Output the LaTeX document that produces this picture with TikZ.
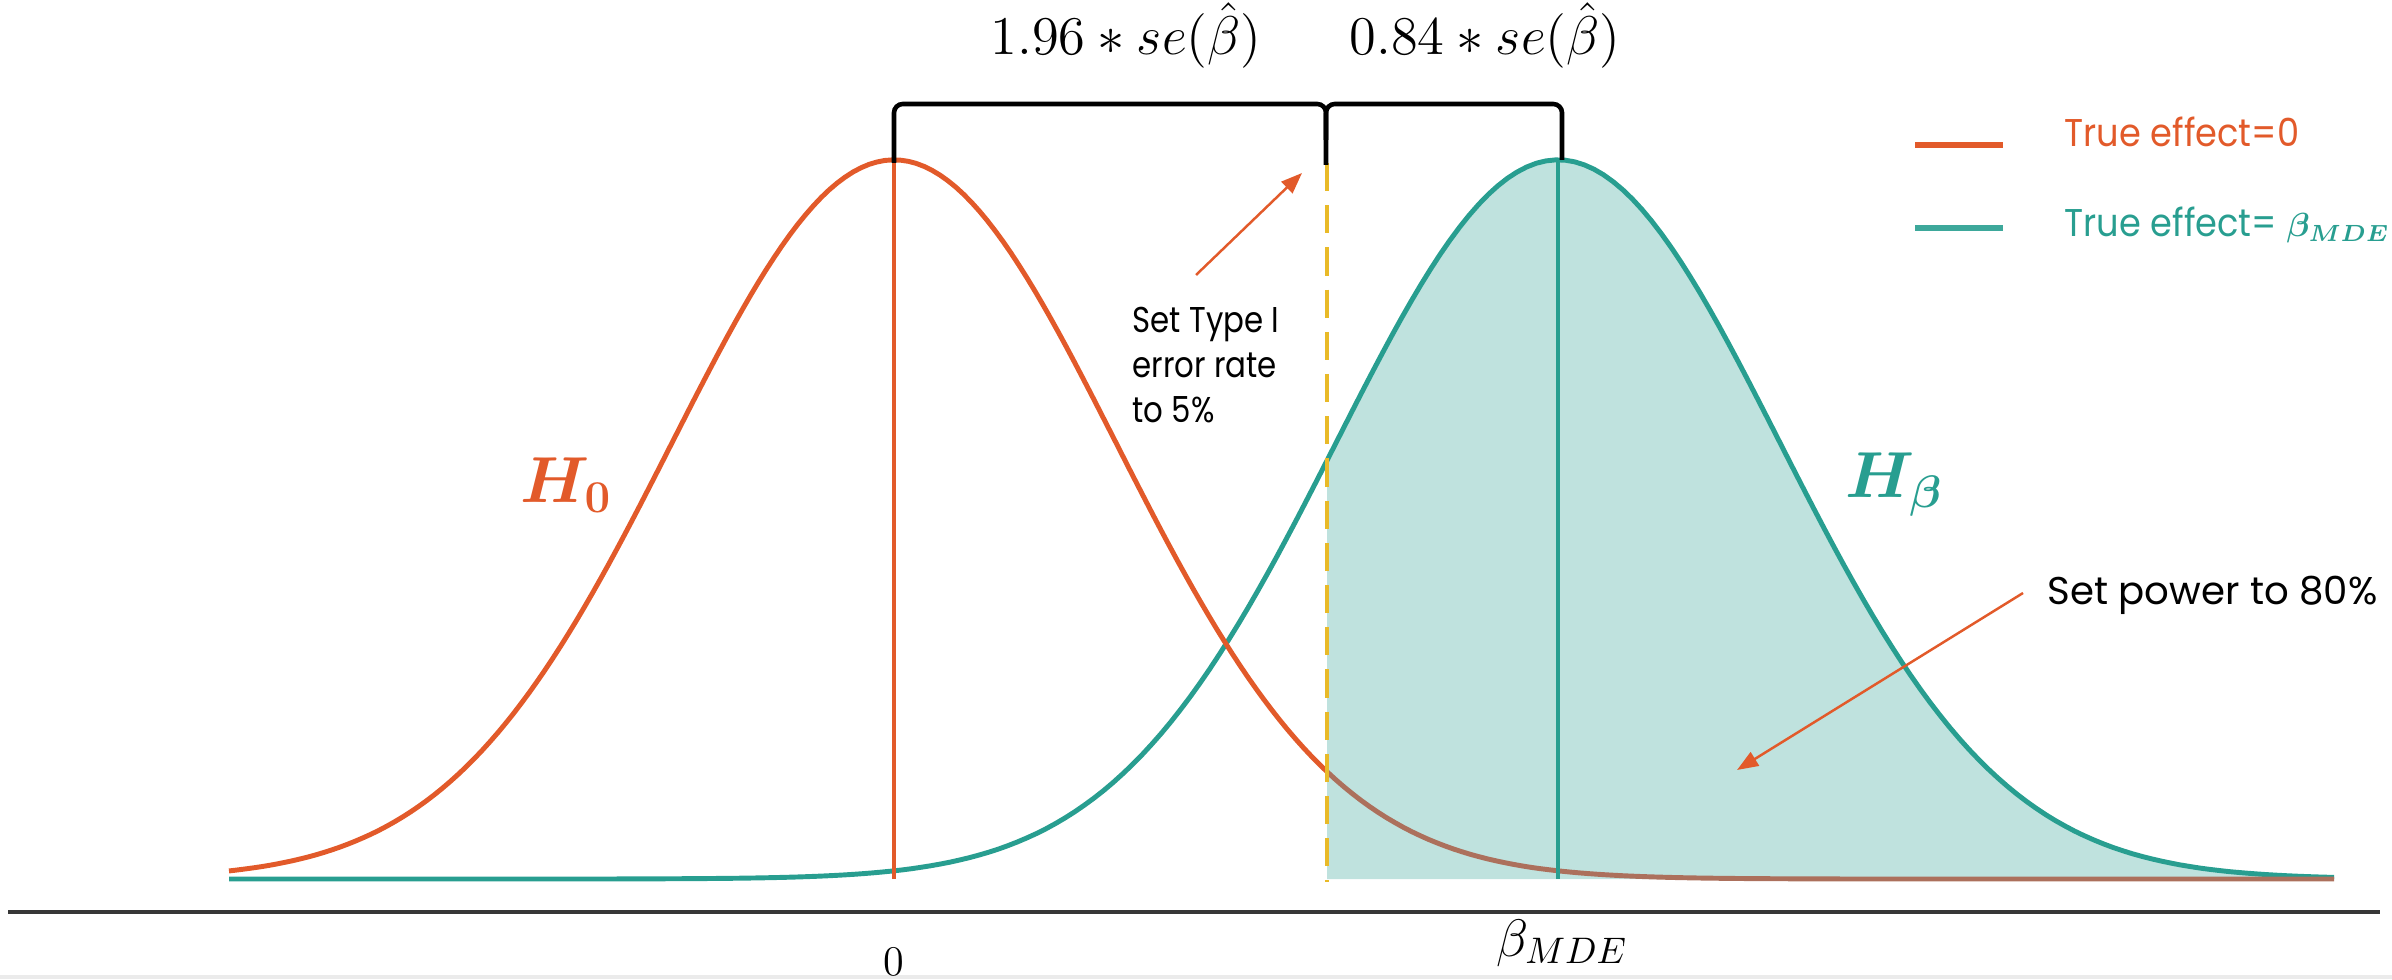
\documentclass[tikz,border=0pt]{standalone}
\usepackage{fix-cm}
\usepackage{amsmath}
\usepackage{bm}
\usepackage{fontspec}
\newfontfamily\gothic{Poppins}
\newfontfamily\gothicN[FakeStretch=0.86]{Poppins}
\newfontfamily\gothicL[FakeStretch=0.91]{Poppins}
\usetikzlibrary{arrows.meta}
\definecolor{orng}{RGB}{226,90,42}
\definecolor{tealc}{RGB}{40,158,144}
\definecolor{tealfill}{RGB}{191,226,222}
\definecolor{brownc}{RGB}{172,112,92}
\definecolor{dashy}{RGB}{233,186,40}
\definecolor{axisc}{RGB}{55,55,55}
\tikzset{
  curve/.style={line width=1.4pt},
  brace/.style={line width=1.3pt, rounded corners=2.5pt},
  note/.style={inner sep=0pt, font=\gothicN\fontsize{10.2}{12.8}\selectfont, align=left},
  legtext/.style={inner sep=0pt, anchor=base west, font=\gothicL\fontsize{11}{13}\selectfont},
  legline/.style={line width=1.5pt},
  pointer/.style={draw=orng, line width=0.7pt, -{Triangle[length=6pt,width=4.5pt]}},
  toplbl/.style={inner sep=0pt, anchor=base, font=\fontsize{15.5}{18}\selectfont},
  hyp/.style={inner sep=0pt, anchor=base west, font=\fontsize{18.5}{22}\selectfont},
}
\begin{document}
\begin{tikzpicture}[x=0.01cm,y=-0.01cm]
\useasboundingbox (0,0) rectangle (2392,980);
% shaded power region
\fill[tealfill] (1327,879) -- plot[domain=1327:2334,samples=120] (\x,{879-719*exp(-0.5*((\x-1558)/222)*((\x-1558)/222))}) -- (2334,879) -- cycle;
% teal curve
\draw[curve, tealc] plot[domain=229:2334,samples=220] (\x,{879-719*exp(-0.5*((\x-1558)/222)*((\x-1558)/222))});
% orange curve
\draw[curve, orng] plot[domain=229:1327,samples=140] (\x,{879-719*exp(-0.5*((\x-894)/222)*((\x-894)/222))});
\draw[curve, brownc] plot[domain=1327:2334,samples=120] (\x,{879-719*exp(-0.5*((\x-894)/222)*((\x-894)/222))});
% vertical lines at means
\draw[orng, line width=0.9pt] (894,160) -- (894,879);
\draw[tealc, line width=1pt] (1558,160) -- (1558,879);
% critical value
\draw[dashy, line width=1.3pt, dash pattern=on 8pt off 4pt] (1327,163) -- (1327,882);
% braces
\draw[brace] (894,163) -- (894,104) -- (1326,104) -- (1326,165);
\draw[brace] (1326,140) -- (1326,104) -- (1562,104) -- (1562,160);
% labels at top
\node[toplbl] (se1) at (1126,55) {$1.96 * se(\hat{\beta})$};
\node[toplbl] (se2) at (1485,55) {$0.84 * se(\hat{\beta})$};
% axis
\draw[axisc, line width=1.2pt] (8,912) -- (2380,912);
\draw[black!8, line width=1pt] (0,977) -- (2392,977);
\node[inner sep=0pt, anchor=base, font=\fontsize{12}{14}\selectfont] (zero) at (894,975) {0};
\node[inner sep=0pt, anchor=base, font=\fontsize{15}{18}\selectfont] (bmde) at (1562,956) {$\beta_{MDE}$};
% hypotheses
\node[hyp, text=orng] (h0) at (520,503) {$\boldsymbol{H_0}$};
\node[hyp, text=tealc] (hb) at (1845,498) {$\boldsymbol{H_\beta}$};
% legend
\coordinate (l1a) at (1915,145); \coordinate (l1b) at (2003,145);
\coordinate (l2a) at (1915,228); \coordinate (l2b) at (2003,228);
\draw[legline, orng] (l1a) -- (l1b);
\draw[legline, tealc!90!white] (l2a) -- (l2b);
\node[legtext, text=orng] (lg1) at (2064,147) {True effect=0};
\node[legtext, text=tealc] (lg2) at (2064,237) {True effect= {\fontsize{9.5}{11}\selectfont$\boldsymbol{\beta_{MDE}}$}};
% annotations
\node[note, anchor=west] (typeI) at (1132,365) {Set Type I\\error rate\\to 5\%};
\node[note, anchor=base west, font=\gothic\fontsize{11}{13}\selectfont] (power) at (2047,605) {Set power to 80\%};
\coordinate (a1s) at (1196,275); \coordinate (a1e) at (1302,173);
\coordinate (a2s) at (2023,593); \coordinate (a2e) at (1737,770);
\draw[pointer] (a1s) -- (a1e);
\draw[pointer] (a2s) -- (a2e);
\end{tikzpicture}
\end{document}
